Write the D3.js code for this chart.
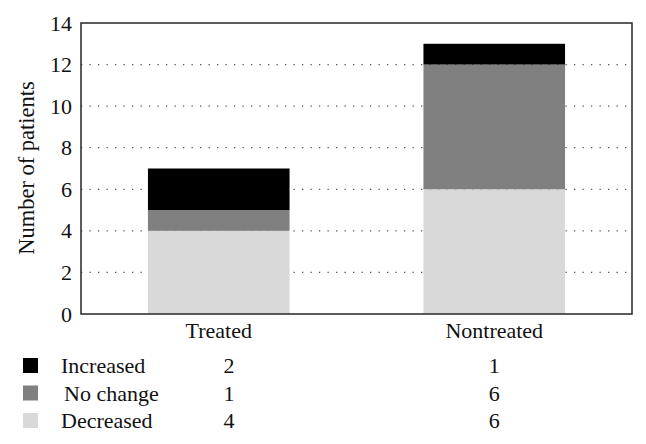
<!DOCTYPE html>
<html><head><meta charset="utf-8">
<script src="https://cdn.jsdelivr.net/npm/d3@7"></script>
<style>body{margin:0;background:#fff}svg{display:block}</style>
</head><body>
<svg id="c" width="646" height="444"></svg>
<script>
const categories = ["Treated", "Nontreated"];
const seriesNames = ["Decreased", "No change", "Increased"];
const decreased = [4, 6];
const noChange = [1, 6];
const increased = [2, 1];
const yTicks = [0, 2, 4, 6, 8, 10, 12, 14];
const colors = {"Decreased": "#d9d9d9", "No change": "#808080", "Increased": "#000000"};

const FONT = "'Liberation Serif', 'DejaVu Serif', serif";
const svg = d3.select("#c");
const L = 81, R = 632, T = 23, B = 314;
const x = d3.scaleBand().domain(categories).range([L, R]).paddingInner(0.486).paddingOuter(0.243);
const y = d3.scaleLinear().domain([0, 14]).range([B, T]);

const rows = categories.map((c, i) => ({cat: c, "Decreased": decreased[i], "No change": noChange[i], "Increased": increased[i]}));
const stacked = d3.stack().keys(seriesNames)(rows);

// gridlines
svg.append("g").selectAll("line").data(yTicks.filter(d => d > 0 && d < 14)).join("line")
  .attr("x1", L).attr("x2", R).attr("y1", d => y(d)).attr("y2", d => y(d))
  .attr("stroke", "#555").attr("stroke-width", 1.3).attr("stroke-dasharray", "1.3,7.2");

// bars
svg.append("g").selectAll("g").data(stacked).join("g").attr("fill", d => colors[d.key])
  .selectAll("rect").data(d => d).join("rect")
  .attr("x", d => x(d.data.cat)).attr("width", x.bandwidth())
  .attr("y", d => y(d[1])).attr("height", d => y(d[0]) - y(d[1]));

// frame
svg.append("rect").attr("x", L).attr("y", T).attr("width", R - L).attr("height", B - T)
  .attr("fill", "none").attr("stroke", "#333").attr("stroke-width", 1.6);

function styleText(sel, size) {
  sel.style("font-family", FONT).style("font-size", size + "px").style("fill", "#111");
}

// y axis labels
const ya = svg.append("g").attr("transform", `translate(${L},0)`)
  .call(d3.axisLeft(y).tickValues(yTicks).tickSize(0).tickPadding(9).tickFormat(d3.format("d")));
ya.select(".domain").remove();
ya.selectAll("text").call(styleText, 22);

// x axis labels
const xa = svg.append("g").attr("transform", `translate(0,${B})`)
  .call(d3.axisBottom(x).tickSize(0).tickPadding(8));
xa.select(".domain").remove();
xa.selectAll("text").call(styleText, 22);

// y title
svg.append("text").attr("transform", "translate(34,168) rotate(-90)")
  .attr("text-anchor", "middle").text("Number of patients").call(styleText, 22.5);

// legend table
const legendOrder = ["Increased", "No change", "Decreased"];
const legendVals = {"Increased": increased, "No change": noChange, "Decreased": decreased};
const lg = svg.append("g");
legendOrder.forEach((k, i) => {
  const cy = 366 + i * 27.5;
  lg.append("rect").attr("x", 23).attr("y", cy - 8).attr("width", 15).attr("height", 15).attr("fill", colors[k]);
  lg.append("text").attr("x", k === "No change" ? 64 : 61).attr("y", cy + 7).text(k).call(styleText, 22);
  categories.forEach((c, j) => {
    lg.append("text").attr("x", j === 0 ? 229 : x(c) + x.bandwidth() / 2).attr("y", cy + 7)
      .attr("text-anchor", "middle").text(legendVals[k][j]).call(styleText, 22);
  });
});
</script>
</body></html>
